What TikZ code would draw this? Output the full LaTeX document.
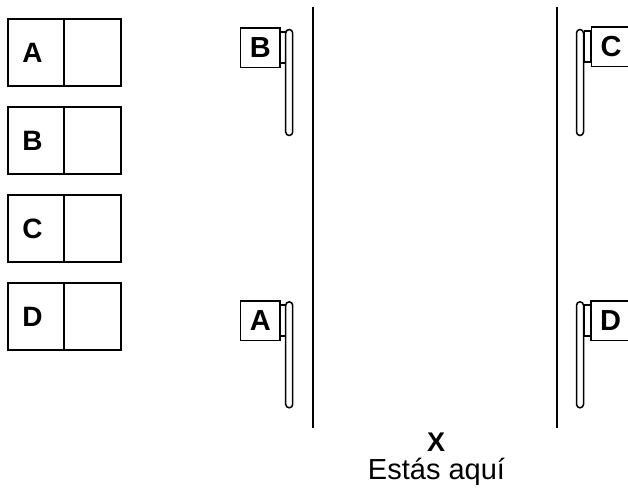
\documentclass[tikz,border=0pt]{standalone}
\usepackage{fontspec}
\setmainfont{Liberation Sans}
\tikzset{
  cell/.style={draw, line width=1.6pt, minimum width=56.5pt, minimum height=67pt, inner sep=0pt},
  cellmark/.style={label={[font=\fontsize{28}{30}\selectfont\bfseries, xshift=-3.5pt]center:#1}},
  flagbox/.style={draw, line width=1.5pt, fill=white, minimum width=39.5pt, minimum height=39.5pt, inner sep=0pt, font=\fontsize{29}{31}\selectfont\bfseries},
  tab/.style={draw, line width=1.3pt, minimum width=6pt, minimum height=31pt, inner sep=0pt},
  pole/.style={draw, line width=1.5pt, rounded corners=3.5pt, minimum width=7pt, minimum height=106pt, inner sep=0pt},
  wall/.style={line width=2.2pt}
}
\begin{document}
\begin{tikzpicture}[x=1pt, y=-1pt]
        \clip (0,0) rectangle (628,498);
        \useasboundingbox (0,0) rectangle (628,498);

        % Answer boxes
        \node[cell, cellmark=A] (ansA) at (36,52.5) {};
        \node[cell] (blankA) at (92.6,52.5) {};
        \node[cell, cellmark=B] (ansB) at (36,140.5) {};
        \node[cell] (blankB) at (92.6,140.5) {};
        \node[cell, cellmark=C] (ansC) at (36,228.5) {};
        \node[cell] (blankC) at (92.6,228.5) {};
        \node[cell, cellmark=D] (ansD) at (36,316.5) {};
        \node[cell] (blankD) at (92.6,316.5) {};

        % Walls of the corridor
        \draw[wall] (313,7) -- (313,428);
        \draw[wall] (556.7,7) -- (556.7,428);

        % Left flags
        \node[pole] (poleB) at (289.2,82.5) {};
        \node[tab] (tabB) at (282.8,47.5) {};
        \node[flagbox] (flagB) at (260.3,47.5) {B};

        \node[pole] (poleA) at (289.2,354.8) {};
        \node[tab] (tabA) at (282.8,320.5) {};
        \node[flagbox] (flagA) at (260.3,320.5) {A};

        % Right flags
        \node[pole] (poleC) at (580,82.5) {};
        \node[tab] (tabC) at (587.5,46.5) {};
        \node[flagbox] (flagC) at (611.2,46.5) {C};

        \node[pole] (poleD) at (580,354.8) {};
        \node[tab] (tabD) at (587.5,320.5) {};
        \node[flagbox] (flagD) at (610.5,320.5) {D};

        % You are here
        \node[font=\fontsize{27}{29}\selectfont\bfseries] (here) at (436,442) {X};
        \node[font=\fontsize{29}{31}\selectfont, anchor=base] (herelabel) at (436.5,479) {Estás aquí};
    \end{tikzpicture}
\end{document}
